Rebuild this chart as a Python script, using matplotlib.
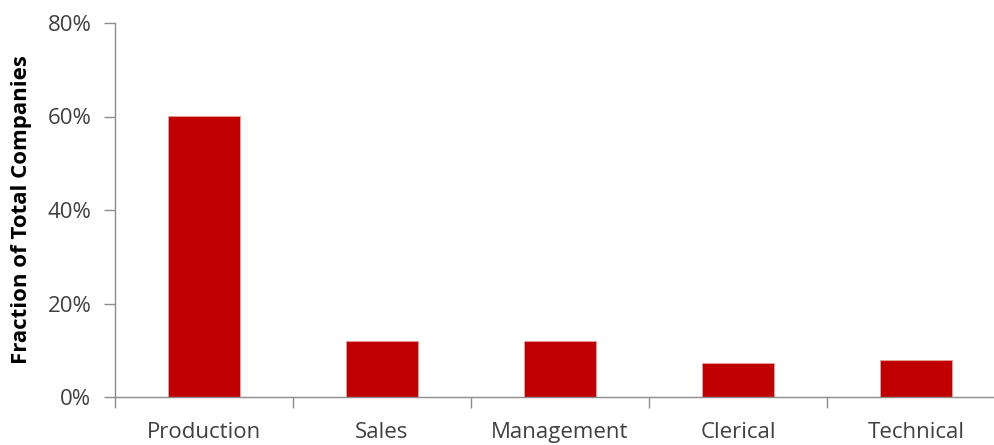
import numpy as np
import matplotlib.pyplot as plt
from matplotlib.ticker import FixedLocator, PercentFormatter

# --- DATA ---
categories = ['Production', 'Sales', 'Management', 'Clerical', 'Technical']
fractions = [60.2, 12.0, 12.0, 7.3, 7.9]  # percent of total companies

BAR_COLOR = '#C00000'
AXIS_COLOR = '#8C8C8C'
TEXT_COLOR = '#404040'

plt.rcParams['font.family'] = ['Open Sans', 'DejaVu Sans']

fig = plt.figure(figsize=(9.95, 4.45), dpi=100)
W, H = 995, 445
# axes box in pixels: left 115, right 1005 (runs off the canvas), top 23, bottom 397
ax = fig.add_axes([115 / W, (H - 397) / H, (1005 - 115) / W, (397 - 23) / H])

x = np.arange(len(categories))
ax.bar(x, fractions, width=0.40, color=BAR_COLOR, edgecolor='#E8A0A0', linewidth=0.6, zorder=2)

ax.set_xlim(-0.5, len(categories) - 0.5)
ax.set_ylim(0, 80)

ax.set_yticks([0, 20, 40, 60, 80])
ax.yaxis.set_major_formatter(PercentFormatter(decimals=0))
ax.tick_params(axis='y', length=8, width=1, color=AXIS_COLOR, labelsize=16,
               labelcolor=TEXT_COLOR, pad=9)

# category labels at centers, tick marks at category boundaries
ax.set_xticks(x)
ax.set_xticklabels(categories)
ax.tick_params(axis='x', which='major', length=0, labelsize=16, labelcolor=TEXT_COLOR, pad=18)
ax.xaxis.set_minor_locator(FixedLocator(np.arange(len(categories)) - 0.5))
ax.tick_params(axis='x', which='minor', length=8, width=1, color=AXIS_COLOR)

for side in ['top', 'right']:
    ax.spines[side].set_visible(False)
for side in ['left', 'bottom']:
    ax.spines[side].set_color(AXIS_COLOR)
    ax.spines[side].set_linewidth(1)

ax.set_ylabel('Fraction of Total Companies', fontsize=16, fontweight='bold', color='black')
ax.yaxis.set_label_coords(-83 / (1005 - 115), 0.5)

fig.savefig('out.png', dpi=100)
